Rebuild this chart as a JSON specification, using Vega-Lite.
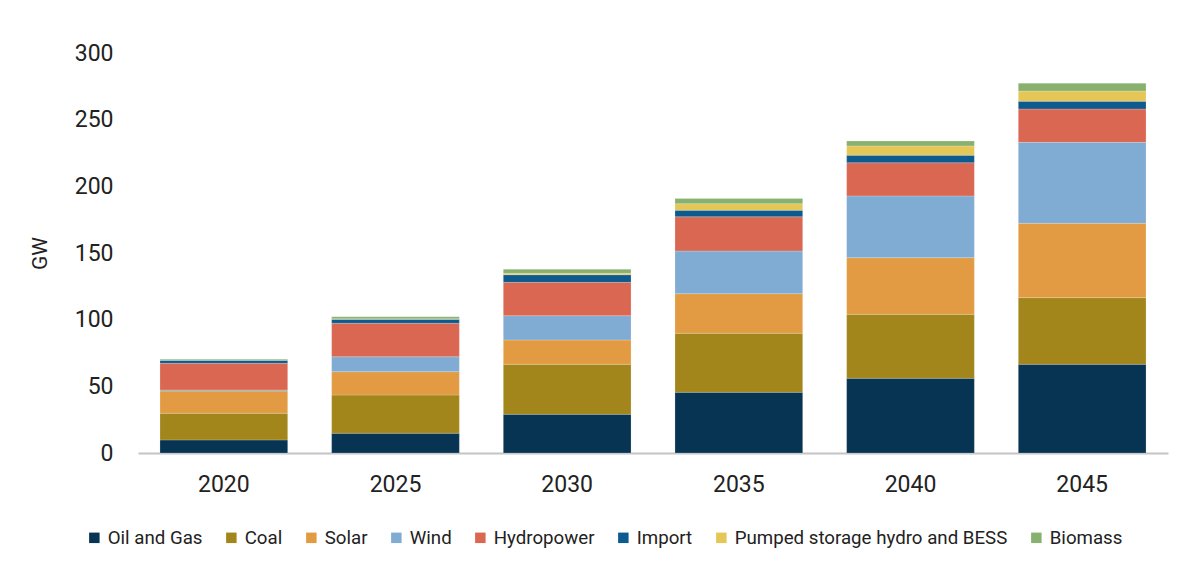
{
  "$schema": "https://vega.github.io/schema/vega-lite/v6.json",
  "autosize": {"type": "none"},
  "width": 1030,
  "height": 400,
  "padding": {"left": 138, "top": 53, "right": 14, "bottom": 114},
  "background": "white",
  "config": {
    "font": "Roboto",
    "view": {"stroke": null}
  },
  "data": {
    "values": [
      {"year": "2020", "source": "Oil and Gas", "gw": 9.8},
      {"year": "2020", "source": "Coal", "gw": 20},
      {"year": "2020", "source": "Solar", "gw": 16.7},
      {"year": "2020", "source": "Wind", "gw": 0.8},
      {"year": "2020", "source": "Hydropower", "gw": 20},
      {"year": "2020", "source": "Import", "gw": 2.2},
      {"year": "2020", "source": "Pumped storage hydro and BESS", "gw": 0},
      {"year": "2020", "source": "Biomass", "gw": 0.8},
      {"year": "2025", "source": "Oil and Gas", "gw": 14.8},
      {"year": "2025", "source": "Coal", "gw": 28.7},
      {"year": "2025", "source": "Solar", "gw": 17.5},
      {"year": "2025", "source": "Wind", "gw": 11.2},
      {"year": "2025", "source": "Hydropower", "gw": 25.1},
      {"year": "2025", "source": "Import", "gw": 3},
      {"year": "2025", "source": "Pumped storage hydro and BESS", "gw": 0.3},
      {"year": "2025", "source": "Biomass", "gw": 1.6},
      {"year": "2030", "source": "Oil and Gas", "gw": 29},
      {"year": "2030", "source": "Coal", "gw": 37.5},
      {"year": "2030", "source": "Solar", "gw": 18.3},
      {"year": "2030", "source": "Wind", "gw": 18.2},
      {"year": "2030", "source": "Hydropower", "gw": 25},
      {"year": "2030", "source": "Import", "gw": 5.7},
      {"year": "2030", "source": "Pumped storage hydro and BESS", "gw": 1.1},
      {"year": "2030", "source": "Biomass", "gw": 3},
      {"year": "2035", "source": "Oil and Gas", "gw": 45.5},
      {"year": "2035", "source": "Coal", "gw": 44.3},
      {"year": "2035", "source": "Solar", "gw": 29.7},
      {"year": "2035", "source": "Wind", "gw": 32},
      {"year": "2035", "source": "Hydropower", "gw": 25.7},
      {"year": "2035", "source": "Import", "gw": 4.8},
      {"year": "2035", "source": "Pumped storage hydro and BESS", "gw": 5},
      {"year": "2035", "source": "Biomass", "gw": 3.8},
      {"year": "2040", "source": "Oil and Gas", "gw": 56},
      {"year": "2040", "source": "Coal", "gw": 48},
      {"year": "2040", "source": "Solar", "gw": 42.5},
      {"year": "2040", "source": "Wind", "gw": 46.3},
      {"year": "2040", "source": "Hydropower", "gw": 24.9},
      {"year": "2040", "source": "Import", "gw": 5.6},
      {"year": "2040", "source": "Pumped storage hydro and BESS", "gw": 7},
      {"year": "2040", "source": "Biomass", "gw": 3.7},
      {"year": "2045", "source": "Oil and Gas", "gw": 66.5},
      {"year": "2045", "source": "Coal", "gw": 50},
      {"year": "2045", "source": "Solar", "gw": 55.8},
      {"year": "2045", "source": "Wind", "gw": 60.7},
      {"year": "2045", "source": "Hydropower", "gw": 25},
      {"year": "2045", "source": "Import", "gw": 5.8},
      {"year": "2045", "source": "Pumped storage hydro and BESS", "gw": 7.7},
      {"year": "2045", "source": "Biomass", "gw": 5.8}
    ]
  },
  "transform": [
    {"calculate": "indexof(['Oil and Gas','Coal','Solar','Wind','Hydropower','Import','Pumped storage hydro and BESS','Biomass'], datum.source)", "as": "stackOrder"}
  ],
  "mark": {"type": "bar", "stroke": "white", "strokeWidth": 0.4, "strokeOpacity": 0.5},
  "encoding": {
    "x": {
      "field": "year",
      "type": "nominal",
      "scale": {"paddingInner": 0.256, "paddingOuter": 0.128},
      "axis": {
        "title": null,
        "labelAngle": 0,
        "labelFontSize": 23,
        "labelColor": "#222222",
        "labelPadding": 20,
        "ticks": false,
        "domainColor": "#c4c4c4",
        "domainWidth": 2,
        "grid": false
      }
    },
    "y": {
      "field": "gw",
      "type": "quantitative",
      "stack": "zero",
      "scale": {"domain": [0, 300], "nice": false},
      "axis": {
        "title": "GW",
        "titleFontSize": 21,
        "titleFontWeight": "normal",
        "titleColor": "#222222",
        "titlePadding": 24,
        "values": [0, 50, 100, 150, 200, 250, 300],
        "labelFontSize": 23,
        "labelColor": "#222222",
        "labelPadding": 25,
        "ticks": false,
        "domain": false,
        "grid": false
      }
    },
    "color": {
      "field": "source",
      "type": "nominal",
      "sort": ["Oil and Gas", "Coal", "Solar", "Wind", "Hydropower", "Import", "Pumped storage hydro and BESS", "Biomass"],
      "scale": {
        "domain": ["Oil and Gas", "Coal", "Solar", "Wind", "Hydropower", "Import", "Pumped storage hydro and BESS", "Biomass"],
        "range": ["#073452", "#a2861c", "#e29b43", "#80abd3", "#da6752", "#0d5a8f", "#e5c757", "#88b06e"]
      },
      "legend": {
        "title": null,
        "orient": "none",
        "direction": "horizontal",
        "legendX": -53,
        "legendY": 475,
        "symbolType": "square",
        "symbolSize": 110,
        "symbolStrokeWidth": 0,
        "labelFontSize": 18.7,
        "labelColor": "#222222",
        "labelOffset": 4,
        "columnPadding": 19,
        "labelLimit": 400
      }
    },
    "order": {"field": "stackOrder", "type": "quantitative", "sort": "ascending"}
  }
}
